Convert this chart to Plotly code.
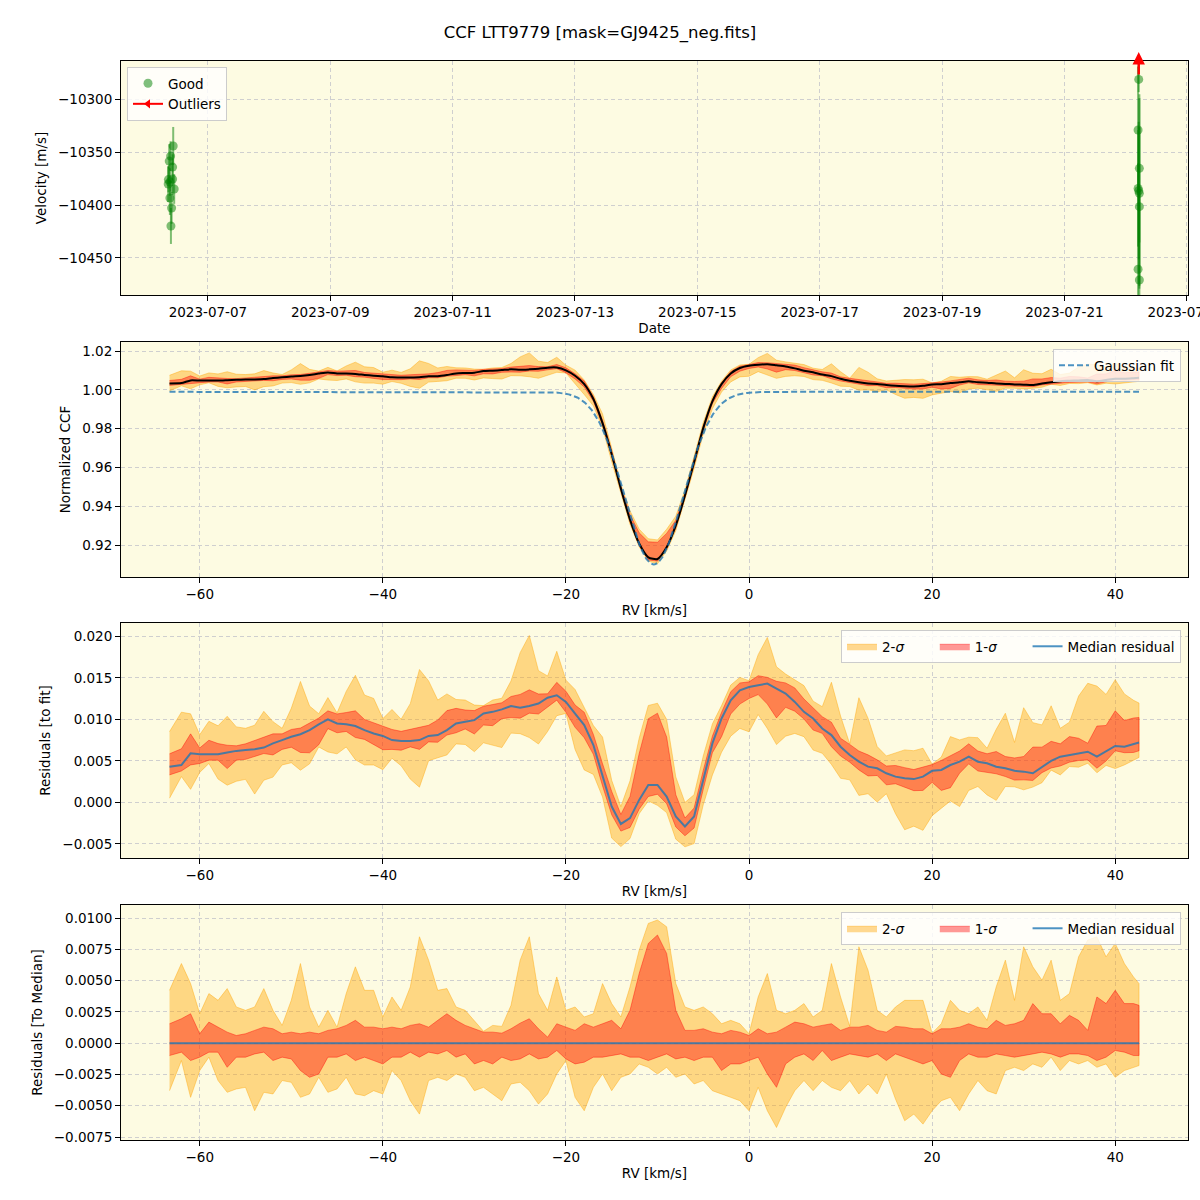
import numpy as np
import plotly.graph_objects as go

TITLE = "CCF LTT9779 [mask=GJ9425_neg.fits]"

# ---------------- Top panel: RV time series ----------------
good_time = ["2023-07-06 10:23", "2023-07-06 09:22", "2023-07-06 08:49", "2023-07-06 10:09",
             "2023-07-06 10:09", "2023-07-06 09:05", "2023-07-06 08:25", "2023-07-06 10:46",
             "2023-07-06 09:05", "2023-07-06 09:45", "2023-07-06 09:29", "2023-07-06 08:30",
             "2023-07-22 05:10", "2023-07-22 04:55", "2023-07-22 05:25", "2023-07-22 04:55",
             "2023-07-22 05:25", "2023-07-22 05:10", "2023-07-22 05:25", "2023-07-22 04:55",
             "2023-07-22 05:25"]
good_vel = [-10344.3, -10353.8, -10358.5, -10364.2, -10375.5, -10378.3, -10380.2, -10384.9,
            -10393.4, -10402.8, -10419.8, -10376.0,
            -10281.4, -10329.2, -10365.4, -10384.3, -10389.0, -10386.5, -10401.6, -10460.7,
            -10470.8]
good_err = [18, 14, 16, 12, 15, 13, 17, 14, 16, 15, 17, 12,
            12, 60, 70, 55, 90, 65, 75, 100, 85]
outlier_time = ["2023-07-22 05:10"]

# ---------------- CCF / residual panels ----------------
rv = [-63.3] + list(range(-62, 43)) + [42.6]

gauss_offset = 0.999
gauss_depth = 0.089
gauss_center = -10.4
gauss_sigma = 3.2

# median residual to fit (x1e-3)
median_res_milli = [
    4.3,
    4.5, 5.9, 5.8, 5.8, 5.8, 6.0, 6.2, 6.3, 6.4, 6.6,
    7.1, 7.5, 7.9, 8.2, 8.7, 9.4, 10.0, 9.5, 9.4, 9.2,
    8.7, 8.3, 8.0, 7.5, 7.4, 7.4, 7.5, 8.0, 8.1, 8.7,
    9.5, 9.7, 9.9, 10.7, 10.9, 11.2, 11.6, 11.4, 11.6, 11.9,
    12.6, 12.9, 12.1, 10.7, 9.3, 6.9, 3.1, -0.5, -2.6, -1.9,
    0.3, 2.1, 2.1, 0.7, -1.7, -2.9, -1.7, 2.7, 7.1, 10.1,
    12.3, 13.5, 13.9, 14.1, 14.3, 13.7, 13.1, 12.1, 10.9, 10.1,
    8.9, 8.1, 6.7, 5.7, 4.9, 4.3, 4.1, 3.5, 3.1, 2.9,
    2.8, 3.1, 3.8, 3.9, 4.5, 4.9, 5.5, 4.9, 4.7, 4.3,
    4.1, 3.8, 3.7, 3.5, 4.3, 5.0, 5.5, 5.7, 5.9, 6.1,
    5.5, 6.1, 6.8, 6.7, 7.0,
    7.2]

# band offsets relative to the median (x1e-3)
hi2_milli = [
    4.22,
    6.36, 4.76, 2.35, 3.96, 3.42, 4.36, 2.89, 2.62, 2.89, 4.36,
    2.62, 1.42, 3.42, 6.36, 2.89, 1.28, 2.62, 1.28, 3.96, 6.10,
    4.22, 4.22, 2.09, 3.69, 2.62, 4.49, 8.50, 6.63, 4.22, 4.36,
    2.89, 2.62, 1.82, 0.95, 1.42, 1.34, 3.02, 6.63, 8.50, 3.96,
    2.62, 5.29, 2.62, 2.89, 2.09, 2.35, 4.76, 3.16, 2.09, 4.49,
    7.43, 9.57, 9.84, 9.30, 4.76, 2.89, 2.62, 2.89, 2.35, 1.55,
    1.82, 1.55, 0.75, 3.69, 5.56, 2.62, 2.35, 2.62, 3.16, 2.09,
    2.62, 6.36, 3.69, 1.35, 7.70, 5.83, 2.62, 2.09, 2.89, 3.42,
    3.42, 3.42, 0.80, 1.55, 3.42, 2.62, 2.35, 2.89, 1.82, 4.49,
    6.63, 3.42, 7.70, 6.10, 5.03, 6.63, 3.42, 3.96, 6.90, 8.24,
    8.50, 6.90, 7.97, 6.36, 5.29,
    4.76]
hi1_milli = [
    1.55,
    1.95, 2.35, 0.75, 1.68, 1.28, 0.88, 0.61, 0.75, 1.02, 1.28,
    1.15, 0.75, 0.88, 0.75, 0.88, 0.75, 1.02, 1.15, 1.42, 1.82,
    1.28, 1.28, 1.15, 1.28, 1.15, 1.42, 1.55, 1.28, 1.82, 2.35,
    1.82, 1.42, 1.15, 0.88, 0.88, 0.80, 1.15, 1.60, 1.95, 1.15,
    0.48, 1.55, 1.28, 1.02, 1.55, 1.28, 1.55, 1.82, 1.15, 2.62,
    5.56, 7.97, 8.64, 7.17, 2.62, 1.02, 1.02, 1.15, 0.88, 0.75,
    1.02, 0.88, 0.61, 1.15, 0.75, 0.88, 1.28, 1.68, 1.55, 1.28,
    1.42, 1.55, 1.02, 1.28, 1.28, 1.42, 1.02, 0.88, 1.34, 1.28,
    1.15, 1.15, 0.75, 1.15, 1.15, 1.28, 1.55, 1.28, 1.15, 1.82,
    1.42, 1.55, 1.82, 3.16, 2.35, 2.35, 1.55, 2.22, 1.82, 1.02,
    3.69, 3.16, 4.22, 3.16, 3.16,
    3.02]
lo1_milli = [
    -0.99,
    -0.72, -1.39, -1.12, -0.72, -0.72, -1.93, -1.12, -1.12, -0.86, -0.72,
    -1.39, -1.12, -1.26, -2.19, -2.73, -2.46, -1.12, -1.12, -0.86, -1.39,
    -1.12, -1.39, -1.66, -1.12, -1.12, -0.72, -1.12, -0.72, -0.86, -0.59,
    -1.12, -0.86, -1.66, -1.39, -1.66, -1.12, -1.39, -1.26, -0.86, -1.26,
    -1.12, -0.59, -1.26, -1.66, -1.52, -1.12, -1.12, -0.99, -0.86, -1.12,
    -1.12, -1.39, -1.12, -0.86, -1.26, -1.12, -1.39, -1.12, -1.12, -2.19,
    -1.66, -1.66, -1.39, -1.12, -2.46, -3.53, -1.66, -1.12, -0.86, -1.39,
    -0.59, -1.39, -1.12, -0.86, -0.99, -1.12, -0.86, -1.39, -0.86, -1.12,
    -1.39, -1.66, -1.39, -2.46, -2.73, -1.39, -0.86, -1.12, -1.12, -0.86,
    -0.99, -1.12, -0.99, -0.86, -0.72, -0.86, -1.12, -0.86, -0.86, -0.99,
    -1.39, -1.12, -0.59, -0.72, -0.99,
    -0.99]
lo2_milli = [
    -3.80,
    -1.39, -4.33, -2.19, -1.12, -2.99, -3.93, -3.66, -3.53, -5.40, -3.93,
    -4.06, -2.99, -3.13, -4.33, -4.06, -2.73, -3.93, -3.66, -2.73, -4.06,
    -4.20, -3.80, -4.06, -2.19, -2.99, -4.60, -5.67, -2.99, -2.73, -2.99,
    -2.46, -2.73, -3.80, -3.53, -4.06, -4.60, -3.26, -3.13, -3.80, -4.87,
    -4.06, -2.46, -1.39, -4.33, -5.40, -3.53, -2.46, -3.80, -2.73, -2.46,
    -1.66, -1.93, -2.46, -1.93, -2.73, -2.46, -3.26, -2.99, -3.80, -4.06,
    -4.33, -4.60, -5.40, -3.53, -5.40, -6.74, -5.13, -3.80, -2.99, -3.80,
    -2.99, -3.53, -3.80, -2.99, -4.06, -3.26, -4.06, -2.46, -4.47, -6.20,
    -5.67, -6.47, -5.40, -4.60, -4.33, -5.40, -4.06, -2.99, -3.80, -4.06,
    -2.19, -1.93, -2.19, -1.66, -1.93, -1.12, -2.19, -1.39, -1.66, -1.39,
    -1.93, -1.66, -2.73, -2.19, -1.93,
    -1.79]

# ---------------- derived arrays ----------------
rv_a = np.array(rv, dtype=float)
med = np.array(median_res_milli) * 1e-3
hi2 = np.array(hi2_milli) * 1e-3
hi1 = np.array(hi1_milli) * 1e-3
lo1 = np.array(lo1_milli) * 1e-3
lo2 = np.array(lo2_milli) * 1e-3


def gauss(x):
    return gauss_offset - gauss_depth * np.exp(-0.5 * ((x - gauss_center) / gauss_sigma) ** 2)


rv_fine = np.linspace(rv_a[0], rv_a[-1], 800)
fit_fine = gauss(rv_fine)
fit_grid = gauss(rv_a)
ccf = fit_grid + med

C2 = "rgba(255,165,0,0.42)"
C1 = "rgba(255,0,0,0.40)"
CMED = "rgba(31,119,180,0.8)"
FONT = "DejaVu Sans"
PAD = "&nbsp;" * 6

def band(x, lo, hi, color, name, xa, ya, showlegend, legend):
    xs = list(x) + list(x[::-1])
    ys = list(hi) + list(lo[::-1])
    return go.Scatter(x=xs, y=ys, fill="toself", fillcolor=color, mode="lines",
                      line=dict(color=color, width=1), name=name, xaxis=xa, yaxis=ya,
                      showlegend=showlegend, legend=legend, hoverinfo="skip")


fig = go.Figure()

# Panel 1
fig.add_trace(go.Scatter(
    x=good_time, y=good_vel, mode="markers", name="Good",
    marker=dict(color="green", size=9, opacity=0.5),
    error_y=dict(type="data", array=good_err, color="rgba(0,128,0,0.5)", thickness=2, width=0),
    xaxis="x", yaxis="y", legend="legend"))
fig.add_trace(go.Scatter(
    x=[None], y=[None], mode="lines+markers", name="Outliers",
    line=dict(color="red", width=2), marker=dict(symbol="triangle-left", color="red", size=8),
    xaxis="x", yaxis="y", legend="legend"))

# Panel 2
fig.add_trace(band(rv_a, fit_grid + med + lo2, fit_grid + med + hi2, C2, "2σ", "x2", "y2", False, "legend2"))
fig.add_trace(band(rv_a, fit_grid + med + lo1, fit_grid + med + hi1, C1, "1σ", "x2", "y2", False, "legend2"))
fig.add_trace(go.Scatter(x=rv_a, y=ccf, mode="lines", line=dict(color="black", width=2, shape="spline", smoothing=0.6),
                         showlegend=False, xaxis="x2", yaxis="y2"))
fig.add_trace(go.Scatter(x=rv_fine, y=fit_fine, mode="lines", name="Gaussian fit",
                         line=dict(color=CMED, width=2, dash="6px,3px"),
                         xaxis="x2", yaxis="y2", legend="legend2"))

# Panel 3
fig.add_trace(band(rv_a, med + lo2, med + hi2, C2, "2-<i>σ</i>" + PAD, "x3", "y3", True, "legend3"))
fig.add_trace(band(rv_a, med + lo1, med + hi1, C1, "1-<i>σ</i>" + PAD, "x3", "y3", True, "legend3"))
fig.add_trace(go.Scatter(x=rv_a, y=med, mode="lines", name="Median residual",
                         line=dict(color=CMED, width=2), xaxis="x3", yaxis="y3", legend="legend3"))

# Panel 4
fig.add_trace(band(rv_a, lo2, hi2, C2, "2-<i>σ</i>" + PAD, "x4", "y4", True, "legend4"))
fig.add_trace(band(rv_a, lo1, hi1, C1, "1-<i>σ</i>" + PAD, "x4", "y4", True, "legend4"))
fig.add_trace(go.Scatter(x=rv_a, y=med * 0, mode="lines", name="Median residual",
                         line=dict(color=CMED, width=2), xaxis="x4", yaxis="y4", legend="legend4"))

W = H = 1200
xdom = [121 / W, 1188 / W]


def ydom(top, bot):
    return [1 - bot / H, 1 - top / H]


axis_common = dict(showline=True, linecolor="black", linewidth=1, mirror=True,
                   ticks="outside", ticklen=5, tickcolor="black", tickwidth=1,
                   showgrid=True, gridcolor="#cfcfcf", griddash="4px,3px", gridwidth=0.8,
                   zeroline=False, tickfont=dict(size=13.5, color="black", family=FONT),
                   automargin=False)


def xt(text):
    return dict(text=text, font=dict(size=13.5, color="black", family=FONT), standoff=4)


def yt(text):
    return dict(text=text, font=dict(size=13.5, color="black", family=FONT), standoff=8)


rv_range = [-68.6, 47.95]

leg_common = dict(bgcolor="rgba(255,255,255,0.8)", bordercolor="#cccccc", borderwidth=1,
                  font=dict(size=13.5, family=FONT, color="black"))

fig.update_layout(
    width=W, height=H, margin=dict(l=0, r=0, t=0, b=0, pad=0),
    paper_bgcolor="white", plot_bgcolor="#fdfbe2",
    font=dict(family=FONT, color="black", size=13.5),
    title=dict(text=TITLE, x=0.5, xanchor="center", y=1 - 32 / H, yanchor="middle",
               xref="paper", yref="container", font=dict(size=16.5, color="black", family=FONT)),
    xaxis=dict(domain=xdom, anchor="y", type="date", range=["2023-07-05 13:54", "2023-07-23 00:30"],
               tick0="2023-07-07", dtick=2 * 86400000, tickformat="%Y-%m-%d", ticklabeloverflow="allow",
               title=xt("Date"), **axis_common),
    yaxis=dict(domain=ydom(61, 295), anchor="x", range=[-10485, -10264], dtick=50, tickformat="d",
               title=yt("Velocity [m/s]"), **axis_common),
    xaxis2=dict(domain=xdom, anchor="y2", range=rv_range, dtick=20, title=xt("RV [km/s]"), **axis_common),
    yaxis2=dict(domain=ydom(342, 577), anchor="x2", range=[0.9035, 1.0247], dtick=0.02, tickformat=".2f",
                title=yt("Normalized CCF"), **axis_common),
    xaxis3=dict(domain=xdom, anchor="y3", range=rv_range, dtick=20, title=xt("RV [km/s]"), **axis_common),
    yaxis3=dict(domain=ydom(623, 858), anchor="x3", range=[-0.0067, 0.0216], dtick=0.005, tickformat=".3f",
                title=yt("Residuals [to fit]"), **axis_common),
    xaxis4=dict(domain=xdom, anchor="y4", range=rv_range, dtick=20, title=xt("RV [km/s]"), **axis_common),
    yaxis4=dict(domain=ydom(905, 1140), anchor="x4", range=[-0.00774, 0.01104], dtick=0.0025, tickformat=".4f",
                title=yt("Residuals [To Median]"), **axis_common),
    legend=dict(x=127 / W, y=1 - 67 / H, xanchor="left", yanchor="top", tracegroupgap=0, **leg_common),
    legend2=dict(x=1181 / W, y=1 - 349 / H, xanchor="right", yanchor="top", **leg_common),
    legend3=dict(x=1181 / W, y=1 - 630 / H, xanchor="right", yanchor="top", orientation="h", **leg_common),
    legend4=dict(x=1181 / W, y=1 - 912 / H, xanchor="right", yanchor="top", orientation="h", **leg_common),
    showlegend=True,
)

# Outlier arrow (point above the plotted range)
fig.add_annotation(x=outlier_time[0], y=1 - 52 / H, xref="x", yref="paper", text="",
                   showarrow=True, arrowhead=2, arrowsize=1, arrowwidth=2.5, arrowcolor="red",
                   ax=0, ay=24)

fig.write_html("out.html")
